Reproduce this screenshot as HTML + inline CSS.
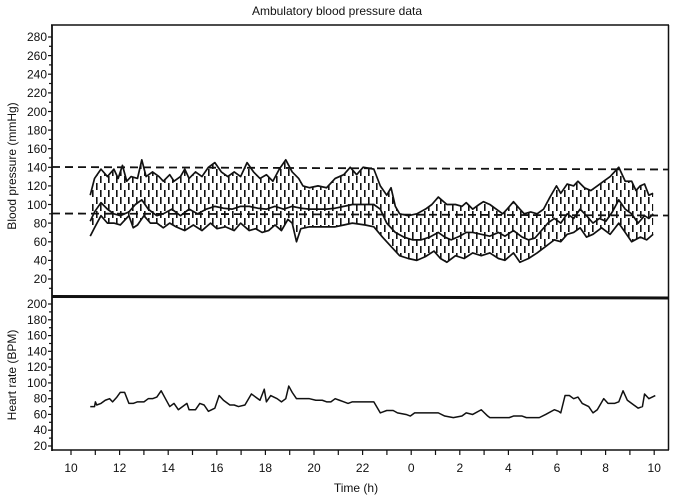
<!DOCTYPE html>
<html><head><meta charset="utf-8"><style>
html,body{margin:0;padding:0;background:#fff;}
svg{display:block;font-family:"Liberation Sans",Arial,sans-serif;}
</style></head><body>
<svg width="673" height="497" viewBox="0 0 673 497" xmlns="http://www.w3.org/2000/svg">
<defs>
<pattern id="dp" x="0" y="0" width="8" height="14" patternUnits="userSpaceOnUse">
<rect x="0" y="1" width="1.6" height="7" fill="#111"/>
<rect x="4" y="8" width="1.6" height="7" fill="#111"/>
<rect x="4" y="-6" width="1.6" height="7" fill="#111"/>
</pattern>
<clipPath id="band"><polygon transform="translate(0,297.6) scale(0.4297,-0.931)" points="210,110 220,128 235,138 250,130 265,138 275,128 285,142 295,125 305,130 320,128 330,148 340,130 355,135 370,130 380,125 395,132 405,125 420,130 430,138 440,128 455,135 470,130 485,140 500,145 515,135 530,130 545,135 560,130 575,145 590,135 605,128 620,132 635,125 650,138 665,148 680,135 695,128 705,120 720,118 740,120 760,118 780,128 800,132 815,140 830,132 845,140 870,138 885,120 900,110 910,118 920,98 930,90 950,88 970,90 990,95 1005,100 1020,108 1040,100 1060,100 1075,98 1085,102 1100,95 1115,100 1125,103 1140,100 1155,95 1170,90 1180,95 1195,103 1210,95 1220,90 1235,92 1250,90 1265,95 1280,108 1295,120 1305,112 1320,122 1335,120 1345,125 1360,118 1375,115 1390,120 1405,125 1420,130 1440,140 1455,125 1470,125 1480,115 1490,120 1500,122 1510,110 1520,112 1520,68 1505,62 1490,65 1470,60 1455,70 1440,80 1420,68 1400,75 1380,68 1365,65 1350,75 1335,70 1320,68 1305,60 1290,62 1270,55 1250,48 1230,42 1210,38 1195,48 1175,40 1160,42 1140,48 1120,45 1100,48 1080,42 1060,45 1040,38 1025,42 1010,50 990,44 970,40 950,42 930,45 910,55 890,65 870,76 850,78 820,80 800,78 780,76 760,76 740,76 720,76 700,74 690,60 680,80 670,84 655,72 640,78 625,72 610,70 595,74 580,72 560,80 545,72 525,76 505,74 490,80 470,72 450,78 430,72 410,76 395,80 380,75 365,80 350,80 335,88 320,78 310,75 300,88 280,78 265,80 250,80 235,88 220,75 210,66"/></clipPath>
</defs>
<text x="337" y="15" font-size="12" text-anchor="middle" fill="#111">Ambulatory blood pressure data</text>
<g stroke="#111" fill="none">
<line x1="51" y1="25" x2="669" y2="25" stroke-width="1.5"/>
<line x1="668.5" y1="25" x2="668.5" y2="450" stroke-width="1.5"/>
<line x1="52" y1="25" x2="52" y2="451" stroke-width="1.8"/>
<line x1="52" y1="450" x2="669" y2="450" stroke-width="1.5"/>
<line x1="52" y1="296.5" x2="669" y2="298" stroke-width="3"/>
</g>
<g stroke="#111" stroke-width="1.2">
<line x1="48" y1="37" x2="52" y2="37"/><line x1="49" y1="46.3" x2="52" y2="46.3"/><line x1="48" y1="55.6" x2="52" y2="55.6"/><line x1="49" y1="64.9" x2="52" y2="64.9"/><line x1="48" y1="74.2" x2="52" y2="74.2"/><line x1="49" y1="83.5" x2="52" y2="83.5"/><line x1="48" y1="92.9" x2="52" y2="92.9"/><line x1="49" y1="102.2" x2="52" y2="102.2"/><line x1="48" y1="111.5" x2="52" y2="111.5"/><line x1="49" y1="120.8" x2="52" y2="120.8"/><line x1="48" y1="130.1" x2="52" y2="130.1"/><line x1="49" y1="139.4" x2="52" y2="139.4"/><line x1="48" y1="148.7" x2="52" y2="148.7"/><line x1="49" y1="158" x2="52" y2="158"/><line x1="48" y1="167.3" x2="52" y2="167.3"/><line x1="49" y1="176.6" x2="52" y2="176.6"/><line x1="48" y1="185.9" x2="52" y2="185.9"/><line x1="49" y1="195.2" x2="52" y2="195.2"/><line x1="48" y1="204.5" x2="52" y2="204.5"/><line x1="49" y1="213.8" x2="52" y2="213.8"/><line x1="48" y1="223.1" x2="52" y2="223.1"/><line x1="49" y1="232.4" x2="52" y2="232.4"/><line x1="48" y1="241.8" x2="52" y2="241.8"/><line x1="49" y1="251.1" x2="52" y2="251.1"/><line x1="48" y1="260.4" x2="52" y2="260.4"/><line x1="49" y1="269.7" x2="52" y2="269.7"/><line x1="48" y1="279" x2="52" y2="279"/><line x1="49" y1="288.3" x2="52" y2="288.3"/>
</g>
<g font-size="12" text-anchor="end" fill="#111">
<text x="47" y="41">280</text><text x="47" y="60">260</text><text x="47" y="78.5">240</text><text x="47" y="97">220</text><text x="47" y="116">200</text><text x="47" y="134.5">180</text><text x="47" y="153">160</text><text x="47" y="171.5">140</text><text x="47" y="190">120</text><text x="47" y="209">100</text><text x="47" y="227.5">80</text><text x="47" y="246">60</text><text x="47" y="264.5">40</text><text x="47" y="283">20</text>
</g>
<text transform="translate(16,166) rotate(-90)" font-size="12" text-anchor="middle" fill="#111">Blood pressure (mmHg)</text>
<g stroke="#111" stroke-width="1.2">
<line x1="48" y1="304" x2="52" y2="304"/><line x1="49" y1="311.9" x2="52" y2="311.9"/><line x1="48" y1="319.8" x2="52" y2="319.8"/><line x1="49" y1="327.7" x2="52" y2="327.7"/><line x1="48" y1="335.6" x2="52" y2="335.6"/><line x1="49" y1="343.5" x2="52" y2="343.5"/><line x1="48" y1="351.3" x2="52" y2="351.3"/><line x1="49" y1="359.2" x2="52" y2="359.2"/><line x1="48" y1="367.1" x2="52" y2="367.1"/><line x1="49" y1="375" x2="52" y2="375"/><line x1="48" y1="382.9" x2="52" y2="382.9"/><line x1="49" y1="390.8" x2="52" y2="390.8"/><line x1="48" y1="398.7" x2="52" y2="398.7"/><line x1="49" y1="406.6" x2="52" y2="406.6"/><line x1="48" y1="414.4" x2="52" y2="414.4"/><line x1="49" y1="422.3" x2="52" y2="422.3"/><line x1="48" y1="430.2" x2="52" y2="430.2"/><line x1="49" y1="438.1" x2="52" y2="438.1"/><line x1="48" y1="446" x2="52" y2="446"/>
</g>
<g font-size="12" text-anchor="end" fill="#111">
<text x="47" y="308">200</text><text x="47" y="324">180</text><text x="47" y="339.5">160</text><text x="47" y="355.5">140</text><text x="47" y="371">120</text><text x="47" y="387">100</text><text x="47" y="402.5">80</text><text x="47" y="418.5">60</text><text x="47" y="434">40</text><text x="47" y="450">20</text>
</g>
<text transform="translate(16,375) rotate(-90)" font-size="12" text-anchor="middle" fill="#111">Heart rate (BPM)</text>
<g stroke="#111" stroke-width="1.2">
<line x1="71" y1="450" x2="71" y2="455"/><line x1="95.3" y1="450" x2="95.3" y2="455"/><line x1="119.6" y1="450" x2="119.6" y2="455"/><line x1="143.9" y1="450" x2="143.9" y2="455"/><line x1="168.2" y1="450" x2="168.2" y2="455"/><line x1="192.5" y1="450" x2="192.5" y2="455"/><line x1="216.8" y1="450" x2="216.8" y2="455"/><line x1="241.1" y1="450" x2="241.1" y2="455"/><line x1="265.4" y1="450" x2="265.4" y2="455"/><line x1="289.7" y1="450" x2="289.7" y2="455"/><line x1="314" y1="450" x2="314" y2="455"/><line x1="338.3" y1="450" x2="338.3" y2="455"/><line x1="362.6" y1="450" x2="362.6" y2="455"/><line x1="386.9" y1="450" x2="386.9" y2="455"/><line x1="411.2" y1="450" x2="411.2" y2="455"/><line x1="435.5" y1="450" x2="435.5" y2="455"/><line x1="459.8" y1="450" x2="459.8" y2="455"/><line x1="484.1" y1="450" x2="484.1" y2="455"/><line x1="508.4" y1="450" x2="508.4" y2="455"/><line x1="532.7" y1="450" x2="532.7" y2="455"/><line x1="557" y1="450" x2="557" y2="455"/><line x1="581.3" y1="450" x2="581.3" y2="455"/><line x1="605.6" y1="450" x2="605.6" y2="455"/><line x1="629.9" y1="450" x2="629.9" y2="455"/><line x1="654.2" y1="450" x2="654.2" y2="455"/>
</g>
<g font-size="12" text-anchor="middle" fill="#111">
<text x="71" y="472">10</text><text x="119.6" y="472">12</text><text x="168.2" y="472">14</text><text x="216.8" y="472">16</text><text x="265.4" y="472">18</text><text x="314" y="472">20</text><text x="362.6" y="472">22</text><text x="411.2" y="472">0</text><text x="459.8" y="472">2</text><text x="508.4" y="472">4</text><text x="557" y="472">6</text><text x="605.6" y="472">8</text><text x="654.2" y="472">10</text>
</g>
<text x="356" y="492" font-size="12" text-anchor="middle" fill="#111">Time (h)</text>
<g stroke="#111" stroke-width="1.8" stroke-dasharray="8,5" fill="none">
<line x1="52" y1="167" x2="668" y2="169.5"/>
<line x1="52" y1="213.5" x2="668" y2="215.5"/>
</g>
<rect x="80" y="100" width="580" height="180" fill="url(#dp)" clip-path="url(#band)"/>
<g transform="translate(0,297.6) scale(0.4297,-0.931)" fill="none" stroke="#111" stroke-width="1.7" stroke-linejoin="round">
<polyline vector-effect="non-scaling-stroke" points="210,110 220,128 235,138 250,130 265,138 275,128 285,142 295,125 305,130 320,128 330,148 340,130 355,135 370,130 380,125 395,132 405,125 420,130 430,138 440,128 455,135 470,130 485,140 500,145 515,135 530,130 545,135 560,130 575,145 590,135 605,128 620,132 635,125 650,138 665,148 680,135 695,128 705,120 720,118 740,120 760,118 780,128 800,132 815,140 830,132 845,140 870,138 885,120 900,110 910,118 920,98 930,90 950,88 970,90 990,95 1005,100 1020,108 1040,100 1060,100 1075,98 1085,102 1100,95 1115,100 1125,103 1140,100 1155,95 1170,90 1180,95 1195,103 1210,95 1220,90 1235,92 1250,90 1265,95 1280,108 1295,120 1305,112 1320,122 1335,120 1345,125 1360,118 1375,115 1390,120 1405,125 1420,130 1440,140 1455,125 1470,125 1480,115 1490,120 1500,122 1510,110 1520,112"/>
<polyline vector-effect="non-scaling-stroke" points="210,82 220,92 235,102 250,95 265,90 280,88 300,92 315,100 330,105 345,95 365,88 380,90 400,95 420,88 440,95 460,90 480,95 500,98 520,96 540,95 560,98 580,98 600,96 620,95 640,98 660,95 680,98 700,96 720,95 760,95 780,96 800,98 820,100 850,100 870,100 885,95 900,80 920,70 940,65 960,62 980,62 1000,65 1020,70 1035,65 1050,62 1070,66 1085,70 1100,70 1120,68 1140,66 1160,70 1175,66 1195,72 1215,65 1230,62 1245,64 1260,72 1275,80 1290,85 1305,80 1320,90 1335,85 1350,95 1365,88 1380,80 1395,85 1410,82 1425,92 1440,105 1455,95 1470,90 1485,80 1500,88 1510,85 1520,90"/>
<polyline vector-effect="non-scaling-stroke" points="210,66 220,75 235,88 250,80 265,80 280,78 300,88 310,75 320,78 335,88 350,80 365,80 380,75 395,80 410,76 430,72 450,78 470,72 490,80 505,74 525,76 545,72 560,80 580,72 595,74 610,70 625,72 640,78 655,72 670,84 680,80 690,60 700,74 720,76 740,76 760,76 780,76 800,78 820,80 850,78 870,76 890,65 910,55 930,45 950,42 970,40 990,44 1010,50 1025,42 1040,38 1060,45 1080,42 1100,48 1120,45 1140,48 1160,42 1175,40 1195,48 1210,38 1230,42 1250,48 1270,55 1290,62 1305,60 1320,68 1335,70 1350,75 1365,65 1380,68 1400,75 1420,68 1440,80 1455,70 1470,60 1490,65 1505,62 1520,68"/>
</g>
<g transform="translate(0,461.8) scale(0.4297,-0.789)" fill="none" stroke="#111" stroke-linejoin="round">
<polyline vector-effect="non-scaling-stroke" stroke-width="1.5" points="210,70 220,70 222,76 225,72 235,74 245,78 255,80 262,76 272,82 280,88 290,88 300,74 310,74 320,76 335,76 345,80 355,80 365,82 375,90 385,80 395,70 405,74 415,66 420,68 435,74 440,66 455,66 465,74 475,72 485,64 500,68 510,84 520,78 535,72 545,72 555,70 570,72 585,86 595,82 605,78 615,92 620,76 630,84 645,80 655,76 665,80 672,96 680,88 690,80 720,80 735,78 750,78 760,76 770,76 780,80 790,78 800,76 810,74 820,76 870,76 885,62 900,65 915,65 925,62 945,60 955,58 965,62 1020,62 1035,58 1055,56 1075,58 1085,62 1100,60 1120,66 1135,58 1140,56 1185,56 1195,58 1215,58 1225,56 1255,56 1270,60 1290,66 1300,64 1305,62 1315,84 1325,84 1335,80 1345,82 1355,74 1370,70 1380,62 1390,66 1405,80 1415,74 1430,74 1440,76 1450,90 1460,78 1475,72 1485,68 1495,70 1500,86 1510,80 1525,84"/>
</g>
</svg>
</body></html>
